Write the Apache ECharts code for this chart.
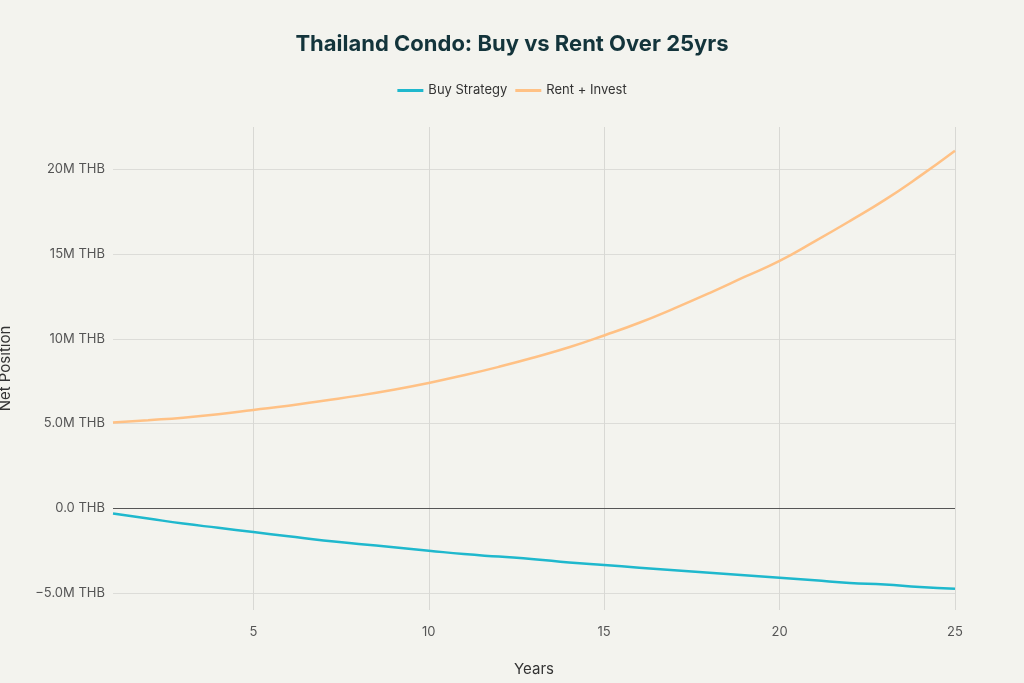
<!DOCTYPE html>
<html><head><meta charset="utf-8">
<script src="https://cdn.jsdelivr.net/npm/echarts@6/dist/echarts.min.js"></script>
<style>html,body{margin:0;background:#f3f3ee}#c{width:1024px;height:683px}</style>
</head><body><div id="c"></div>
<script>
const years = [1,2,3,4,5,6,7,8,9,10,11,12,13,14,15,16,17,18,19,20,21,22,23,24,25];
const buyM = [-0.3,-0.6,-0.9,-1.15,-1.4,-1.65,-1.9,-2.1,-2.3,-2.5,-2.7,-2.85,-3.0,-3.2,-3.35,-3.5,-3.65,-3.8,-3.95,-4.1,-4.25,-4.4,-4.5,-4.65,-4.75];
const rentM = [5.06,5.2,5.35,5.55,5.8,6.05,6.35,6.65,7.0,7.4,7.85,8.35,8.9,9.5,10.2,10.95,11.8,12.7,13.65,14.6,15.75,16.95,18.2,19.6,21.1];
const yTicks = [-5e6,0,5e6,10e6,15e6,20e6];
const xTicks = [5,10,15,20,25];

const chart = echarts.init(document.getElementById('c'));
const fmtY = v => {
  if (v === 0) return '0.0 THB';
  const m = Math.abs(v) / 1e6;
  const s = m < 10 ? m.toFixed(1) + 'M THB' : m.toFixed(0) + 'M THB';
  return (v < 0 ? '\u2212' : '') + s;
};
const font = 'Inter, "Noto Sans", sans-serif';
chart.setOption({
  backgroundColor: '#f3f3ee',
  textStyle: { fontFamily: font },
  title: { text: 'Thailand Condo: Buy vs Rent Over 25yrs', left: 'center', top: 28,
    textStyle: { fontSize: 22, fontWeight: 'bold', color: '#13343b', fontFamily: font } },
  legend: { top: 79, left: 'center', itemWidth: 26, itemHeight: 3, icon: 'rect',
    textStyle: { fontSize: 13, color: '#333' } },
  grid: { left: 113, right: 69, top: 127, bottom: 73, containLabel: false, outerBoundsMode: 'none' },
  xAxis: { type: 'value', min: 1, max: 25, name: 'Years', nameLocation: 'middle', nameGap: 52,
    nameTextStyle: { fontSize: 15, color: '#333' },
    axisLine: { show: false }, axisTick: { show: false, customValues: xTicks },
    axisLabel: { customValues: xTicks, fontSize: 13, color: '#555', margin: 16 },
    splitLine: { show: true, lineStyle: { color: '#d8d8d4' } } },
  yAxis: { type: 'value', min: -6e6, max: 22.5e6, name: 'Net Position', nameLocation: 'middle', nameGap: 100,
    nameTextStyle: { fontSize: 15, color: '#333' },
    axisLine: { show: false }, axisTick: { show: false, customValues: yTicks },
    axisLabel: { customValues: yTicks, formatter: fmtY, fontSize: 13, color: '#555', margin: 8 },
    splitLine: { show: true, lineStyle: { color: '#dcdcd8' } } },
  series: [
    { name: 'Buy Strategy', type: 'line', showSymbol: false, smooth: true,
      data: years.map((y, i) => [y, buyM[i] * 1e6]), lineStyle: { width: 2.5, color: '#1fb8cd' }, itemStyle: { color: '#1fb8cd' },
      markLine: { silent: true, symbol: 'none', label: { show: false }, lineStyle: { color: '#555', type: 'solid', width: 1 }, data: [{ yAxis: 0 }] } },
    { name: 'Rent + Invest', type: 'line', showSymbol: false, smooth: true,
      data: years.map((y, i) => [y, rentM[i] * 1e6]), lineStyle: { width: 2.5, color: '#ffc185' }, itemStyle: { color: '#ffc185' } }
  ]
});
</script></body></html>
